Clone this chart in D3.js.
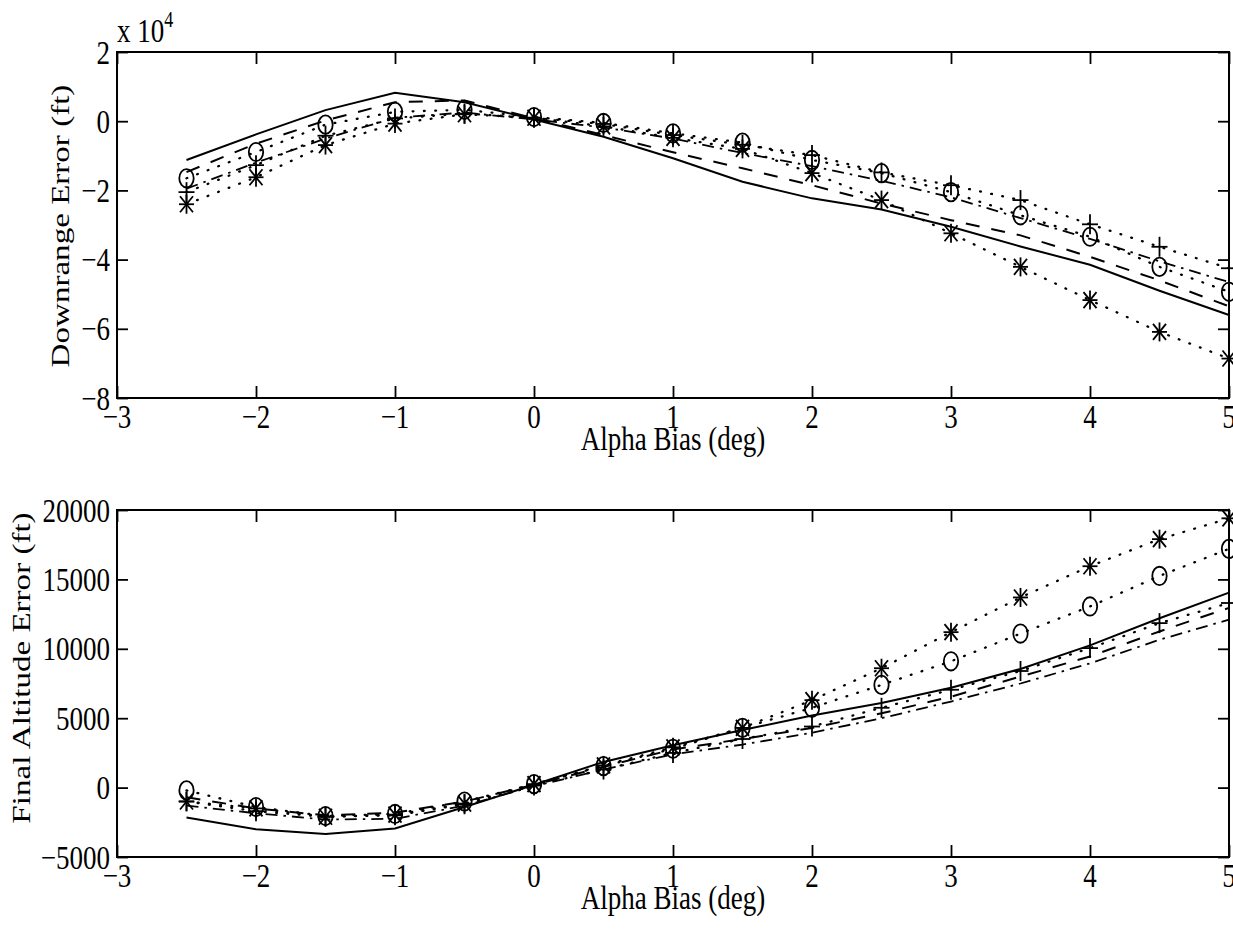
<!DOCTYPE html>
<html>
<head>
<meta charset="utf-8">
<script src="https://cdn.jsdelivr.net/npm/d3@7"></script>
<style>
  body { margin: 0; background: #fff; }
  svg text { font-family: "Liberation Serif", "Times New Roman", serif; fill: #000; }
</style>
</head>
<body>
<svg id="fig" width="1233" height="934"></svg>
<script>
// Alpha bias sweep (deg)
const alpha = [-2.5, -2, -1.5, -1, -0.5, 0, 0.5, 1, 1.5, 2, 2.5, 3, 3.5, 4, 4.5, 5];
const xTicks = [-3, -2, -1, 0, 1, 2, 3, 4, 5];

// Downrange error, in units of 10^4 ft
const downTicks = [-8, -6, -4, -2, 0, 2];
const drSolid   = [-1.12, -0.38, 0.32, 0.82, 0.55, 0.05, -0.45, -1.07, -1.75, -2.23, -2.55, -3.05, -3.62, -4.15, -4.90, -5.60];
const drDashed  = [-1.47, -0.65, 0.02, 0.55, 0.60, 0.08, -0.40, -0.90, -1.36, -1.85, -2.38, -2.86, -3.30, -3.92, -4.60, -5.35];
const drDashDot = [-1.95, -1.20, -0.50, 0.10, 0.25, 0.05, -0.18, -0.50, -0.92, -1.30, -1.72, -2.20, -2.80, -3.40, -4.05, -4.65];
const drPlus    = [-2.05, -1.27, -0.42, 0.08, 0.22, 0.10, -0.08, -0.40, -0.68, -0.98, -1.48, -1.85, -2.28, -2.98, -3.63, -4.25];
const drCircle  = [-1.65, -0.89, -0.10, 0.27, 0.33, 0.12, -0.05, -0.35, -0.62, -1.12, -1.50, -2.05, -2.72, -3.34, -4.21, -4.93];
const drStar    = [-2.40, -1.62, -0.69, -0.07, 0.20, 0.10, -0.15, -0.48, -0.80, -1.50, -2.28, -3.24, -4.21, -5.17, -6.09, -6.86];

// Final altitude error (ft)
const altTicks = [-5000, 0, 5000, 10000, 15000, 20000];
const altSolid   = [-2150, -3000, -3350, -2950, -1400, 200, 1850, 3050, 4150, 5200, 6100, 7200, 8550, 10250, 12200, 14050];
const altDashed  = [-700, -1500, -2000, -1800, -1000, 200, 1500, 2750, 3500, 4300, 5350, 6550, 8000, 9450, 11250, 12950];
const altDashDot = [-1300, -1850, -2300, -2250, -1300, 100, 1300, 2400, 3100, 3950, 5000, 6200, 7500, 8950, 10650, 12100];
const altPlus    = [-1000, -1700, -2100, -2000, -1200, 150, 1300, 2500, 3500, 4400, 5750, 7050, 8400, 10050, 11850, 13300];
const altCircle  = [-200, -1400, -2050, -1900, -1000, 250, 1550, 2800, 4300, 5750, 7400, 9100, 11100, 13050, 15250, 17200];
const altStar    = [-1000, -1500, -2100, -1950, -1150, 250, 1600, 2900, 4300, 6300, 8600, 11200, 13700, 15950, 17900, 19400];

const svg = d3.select("#fig");
const STRETCH = 1.28;          // text is set taller than wide
const FS = 27;                 // tick / label font size
const fmt = d3.format("d");

const styles = {
  solid:   { dash: null,          width: 2.0 },
  dashed:  { dash: "14,12",       width: 2.0 },
  dashdot: { dash: "12,6,2.5,6",  width: 1.8 },
  dotted:  { dash: "0.8,10.5",    width: 2.3 }
};

function marker(g, type, cx, cy) {
  const m = g.append("g").attr("transform", `translate(${cx},${cy})`)
    .attr("stroke", "#000").attr("stroke-width", 1.8).attr("fill", "none");
  if (type === "plus") {
    m.append("line").attr("x1", -8).attr("x2", 8).attr("y1", 0).attr("y2", 0);
    m.append("line").attr("x1", 0).attr("x2", 0).attr("y1", -10).attr("y2", 10);
  } else if (type === "circle") {
    m.append("ellipse").attr("rx", 7.2).attr("ry", 9.2);
  } else if (type === "star") {
    m.append("line").attr("x1", -7.5).attr("x2", 7.5).attr("y1", 0).attr("y2", 0);
    m.append("line").attr("x1", 0).attr("x2", 0).attr("y1", -9.5).attr("y2", 9.5);
    m.append("line").attr("x1", -6.5).attr("x2", 6.5).attr("y1", -8).attr("y2", 8);
    m.append("line").attr("x1", -6.5).attr("x2", 6.5).attr("y1", 8).attr("y2", -8);
  }
}

function panel(cfg) {
  const x = d3.scaleLinear().domain([-3, 5]).range([cfg.left, cfg.right]);
  const y = d3.scaleLinear().domain(cfg.yDomain).range([cfg.bottom, cfg.top]);
  const g = svg.append("g");

  // Data lines
  const line = d3.line().x(d => x(d[0])).y(d => y(d[1]));
  cfg.series.forEach(s => {
    const pts = alpha.map((a, i) => [a, s.values[i]]);
    const st = styles[s.style];
    g.append("path").datum(pts)
      .attr("d", line)
      .attr("fill", "none")
      .attr("stroke", "#000")
      .attr("stroke-width", st.width)
      .attr("stroke-linecap", s.style === "dotted" ? "round" : "butt")
      .attr("stroke-dasharray", st.dash);
    if (s.marker) pts.forEach(p => marker(g, s.marker, x(p[0]), y(p[1])));
  });

  // Inward ticks on all four sides
  g.append("g").attr("transform", `translate(0,${cfg.bottom})`)
    .call(d3.axisBottom(x).tickValues(xTicks).tickSize(-12).tickSizeOuter(0).tickFormat(""));
  g.append("g").attr("transform", `translate(0,${cfg.top})`)
    .call(d3.axisTop(x).tickValues(xTicks).tickSize(-12).tickSizeOuter(0).tickFormat(""));
  g.append("g").attr("transform", `translate(${cfg.left},0)`)
    .call(d3.axisLeft(y).tickValues(cfg.yTicks).tickSize(-11).tickSizeOuter(0).tickFormat(""));
  g.append("g").attr("transform", `translate(${cfg.right},0)`)
    .call(d3.axisRight(y).tickValues(cfg.yTicks).tickSize(-11).tickSizeOuter(0).tickFormat(""));
  g.selectAll(".tick line").attr("stroke", "#000").attr("stroke-width", 1.8);
  g.selectAll(".domain").remove();

  // Frame
  g.append("rect")
    .attr("x", cfg.left).attr("y", cfg.top)
    .attr("width", cfg.right - cfg.left).attr("height", cfg.bottom - cfg.top)
    .attr("fill", "none").attr("stroke", "#000").attr("stroke-width", 2);

  // Tick labels
  xTicks.forEach(t => {
    g.append("text")
      .attr("transform", `translate(${x(t)},${cfg.bottom + 30}) scale(1,${STRETCH})`)
      .attr("text-anchor", "middle").attr("font-size", FS)
      .text(fmt(t));
  });
  cfg.yTicks.forEach(t => {
    g.append("text")
      .attr("transform", `translate(110,${y(t) + 11.5}) scale(1,${STRETCH})`)
      .attr("text-anchor", "end").attr("font-size", FS)
      .text(fmt(t));
  });

  // Axis titles
  g.append("text")
    .attr("transform", `translate(${(cfg.left + cfg.right) / 2},${cfg.bottom + 52}) scale(1,${STRETCH})`)
    .attr("text-anchor", "middle").attr("font-size", FS)
    .text("Alpha Bias (deg)");
  g.append("text")
    .attr("transform", `translate(${cfg.yTitleX},${cfg.yTitleY}) scale(1,1.35) rotate(-90)`)
    .attr("text-anchor", "middle").attr("font-size", 24.5)
    .text(cfg.yTitle);
  return g;
}

const downPanel = panel({
  left: 117, right: 1229, top: 52, bottom: 398,
  yDomain: [-8, 2], yTicks: downTicks,
  yTitle: "Downrange Error (ft)", yTitleX: 69, yTitleY: 226,
  series: [
    { values: drSolid,   style: "solid" },
    { values: drDashed,  style: "dashed" },
    { values: drDashDot, style: "dashdot" },
    { values: drPlus,    style: "dotted", marker: "plus" },
    { values: drCircle,  style: "dotted", marker: "circle" },
    { values: drStar,    style: "dotted", marker: "star" }
  ]
});

// Axis multiplier for the downrange panel
const mult = downPanel.append("text")
  .attr("transform", `translate(117,42) scale(1,${STRETCH})`)
  .attr("font-size", FS);
mult.append("tspan").text("x 10");
mult.append("tspan").attr("font-size", 18).attr("dy", -12).text("4");

panel({
  left: 117, right: 1229, top: 510, bottom: 857,
  yDomain: [-5000, 20000], yTicks: altTicks,
  yTitle: "Final Altitude Error (ft)", yTitleX: 30, yTitleY: 668,
  series: [
    { values: altSolid,   style: "solid" },
    { values: altDashed,  style: "dashed" },
    { values: altDashDot, style: "dashdot" },
    { values: altPlus,    style: "dotted", marker: "plus" },
    { values: altCircle,  style: "dotted", marker: "circle" },
    { values: altStar,    style: "dotted", marker: "star" }
  ]
});
</script>
</body>
</html>
